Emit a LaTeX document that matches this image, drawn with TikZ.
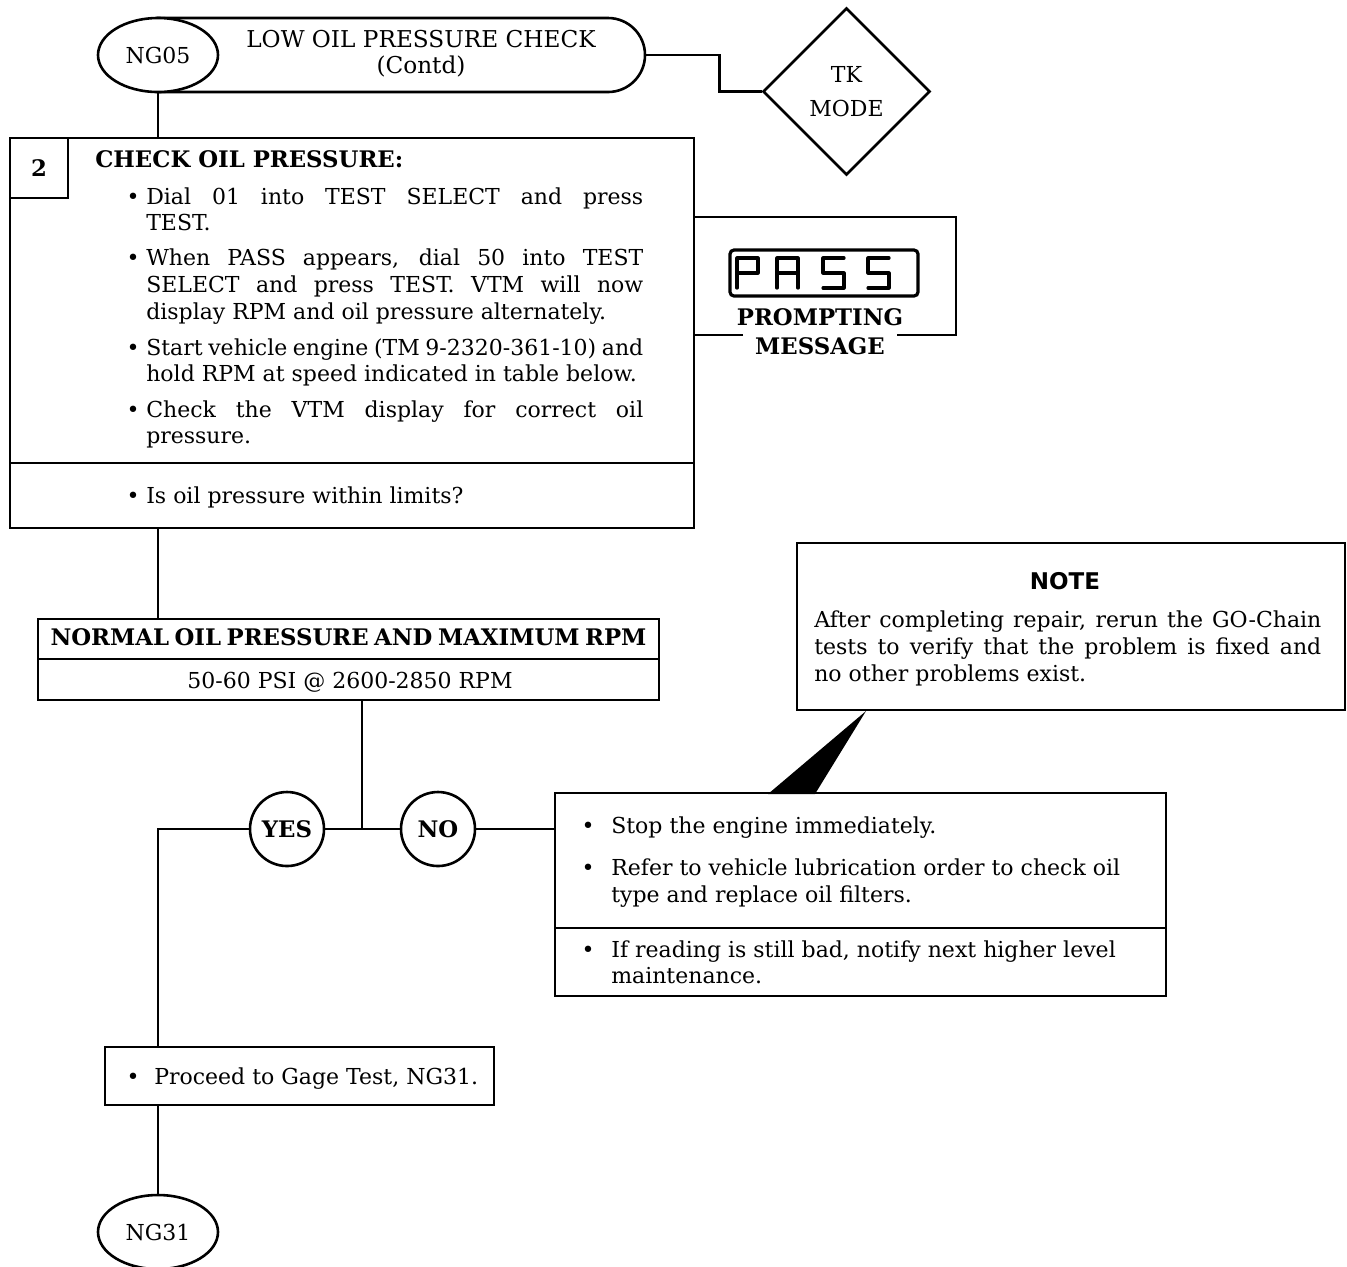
\documentclass[tikz,border=0pt]{standalone}
\usepackage{fontspec}
\setmainfont{DejaVu Serif}
\newfontfamily\notefont{DejaVu Sans}
\usetikzlibrary{shapes.geometric,shapes.misc}
\newcommand{\bodyfont}{\fontsize{11}{13.5}\selectfont}
\newcommand{\boldfont}{\fontsize{11.4}{13.5}\selectfont\bfseries}
\newcommand{\jline}[4]{\node[txt] at (#1,#2) {\makebox[#3][s]{#4}};}
\newcommand{\bul}[2]{\node[ctxt] at (#1,#2) {\textbullet};}
\begin{document}
\begin{tikzpicture}[x=0.5pt,y=-0.5pt, line width=1.3pt,
  txt/.style={anchor=base west, inner sep=0pt, font=\bodyfont},
  ctxt/.style={anchor=base, inner sep=0pt, font=\bodyfont},
  box/.style={draw, rectangle, inner sep=0pt},
  oval/.style={draw, ellipse, fill=white, inner sep=0pt, minimum width=60pt, minimum height=37pt, font=\bodyfont},
  circ/.style={draw, circle, fill=white, inner sep=0pt, minimum size=37pt, font=\boldfont}
]
\useasboundingbox (0,0) rectangle (1347,1266);

% header
\node[draw, rounded rectangle, rounded rectangle left arc=none, minimum width=243.5pt, minimum height=37pt, inner sep=0pt] (header) at (401.5,55) {};
\node[oval] (ng05) at (158,55) {NG05};
\node[ctxt, font=\fontsize{11.6}{13.5}\selectfont] (htitle) at (421,47) {LOW OIL PRESSURE CHECK};
\node[ctxt, font=\fontsize{11.6}{13.5}\selectfont] (hcontd) at (421,73) {(Contd)};

% TK MODE diamond
\node[draw, diamond, aspect=1, minimum width=83.5pt, minimum height=83.5pt, inner sep=0pt, align=center, font=\fontsize{11}{17}\selectfont] (tk) at (846.5,91.5) {TK\\MODE};
\draw (header.east) -- ++(73,0) |- (tk.west);

% main box
\node[box, minimum width=342pt, minimum height=195pt] (main) at (352,333) {};
\draw (10,463) -- (694,463);
\node[box, minimum width=29pt, minimum height=30pt, font=\boldfont] (num) at (39,168) {2};
\draw (ng05.south) -- (ng05.south |- main.north);

\node[txt, font=\boldfont] at (94,167) {CHECK OIL PRESSURE:};
\bul{133}{204}
\jline{145}{204}{248.5pt}{Dial 01 into TEST SELECT and press}
\node[txt] at (145,230) {TEST.};
\bul{133}{265}
\jline{145}{265}{248.5pt}{When PASS appears, dial 50 into TEST}
\jline{145}{292}{248.5pt}{SELECT and press TEST. VTM will now}
\node[txt] at (145,319) {display RPM and oil pressure alternately.};
\bul{133}{355}
\jline{145}{355}{248.5pt}{Start vehicle engine (TM 9-2320-361-10) and}
\node[txt] at (145,381) {hold RPM at speed indicated in table below.};
\bul{133}{417}
\jline{145}{417}{248.5pt}{Check the VTM display for correct oil}
\node[txt] at (145,443) {pressure.};
\bul{133}{503}
\node[txt] at (145,503) {Is oil pressure within limits?};

% PASS prompting message
\draw (694,217) -- (956,217) -- (956,335) -- (897,335) (743,335) -- (694,335);
\node[draw, rounded corners=2pt, minimum width=94pt, minimum height=23pt, line width=1.6pt, inner sep=0pt] (disp) at (824,273) {};
\begin{scope}[line width=1.6pt, line cap=round, line join=round]
\draw (737,288)--(737,258)--(758,258)--(758,273)--(737,273);
\draw (777,288)--(777,258)--(798,258)--(798,288) (777,273)--(798,273);
\draw (844,258)--(823,258)--(823,273)--(844,273)--(844,288)--(823,288);
\draw (889,258)--(868,258)--(868,273)--(889,273)--(889,288)--(868,288);
\end{scope}
\node[ctxt, font=\boldfont] (pr1) at (820,325) {PROMPTING};
\node[ctxt, font=\boldfont] (pr2) at (820,354) {MESSAGE};

% table
\node[box, minimum width=310.5pt, minimum height=40.5pt] (tbl) at (348.5,659.5) {};
\draw (38,659) -- (659,659);
\node[ctxt, font=\boldfont] at (348.5,645) {\makebox[298pt][s]{NORMAL OIL PRESSURE AND MAXIMUM RPM}};
\node[ctxt] at (350,688) {50-60 PSI @ 2600-2850 RPM};
\draw (main.south -| ng05.south) -- (tbl.north -| ng05.south);

% decision
\coordinate (j) at (362,829);
\node[circ] (yes) at (287,829) {YES};
\node[circ] (no) at (438,829) {NO};
\draw (tbl.south -| j) -- (j);
\draw (yes) -- (no);

% NO branch box
\node[box, minimum width=305.5pt, minimum height=101.5pt] (stop) at (860.5,894.5) {};
\draw (555,928) -- (1166,928);
\draw (no) -- (no -| stop.west);
\bul{588}{833}
\node[txt] at (610,833) {Stop the engine immediately.};
\bul{588}{875}
\node[txt] at (610,875) {Refer to vehicle lubrication order to check oil};
\node[txt] at (610,902) {type and replace oil filters.};
\bul{588}{957}
\node[txt] at (610,957) {If reading is still bad, notify next higher level};
\node[txt] at (610,983) {maintenance.};

% NOTE
\node[box, minimum width=274pt, minimum height=83.5pt] (note) at (1071,626.5) {};
\node[ctxt, font=\notefont\fontsize{11.5}{13}\selectfont\bfseries] at (1065,589) {NOTE};
\jline{813}{627}{253.5pt}{After completing repair, rerun the GO-Chain}
\jline{813}{654}{253.5pt}{tests to verify that the problem is fixed and}
\node[txt] at (813,681) {no other problems exist.};
\fill (866,711) -- (768,794) -- (815,794) -- cycle;

% YES branch
\node[box, minimum width=194.5pt, minimum height=29pt] (proceed) at (299.5,1076) {};
\bul{133}{1084}
\node[txt] at (153,1084) {Proceed to Gage Test, NG31.};
\draw (yes.west) -| (ng05.south |- proceed.north);
\node[oval] (ng31) at (158,1232) {NG31};
\draw (proceed.south -| ng31.north) -- (ng31.north);
\end{tikzpicture}
\end{document}
